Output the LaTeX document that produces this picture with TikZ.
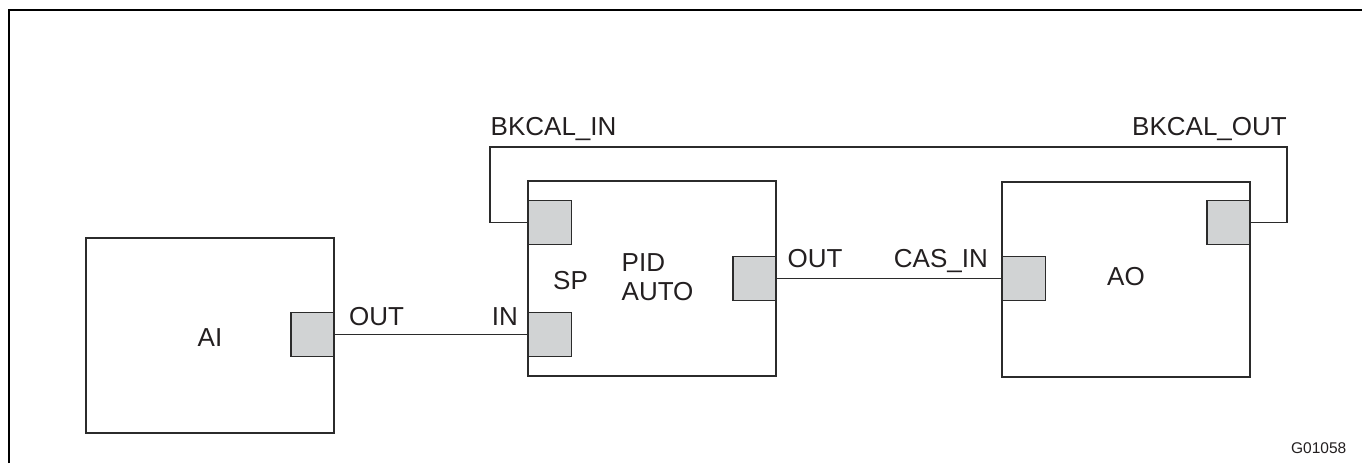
\documentclass[tikz,border=0pt]{standalone}
\usepackage{fontspec}
\setmainfont{Liberation Sans}
\begin{document}
\begin{tikzpicture}[x=1pt,y=-1pt,
  blk/.style={draw=boxc, line width=1.6pt, minimum width=248pt, minimum height=195pt, inner sep=0pt},
  port/.style={draw=boxc, fill=portc, line width=1.6pt, minimum width=43pt, minimum height=44pt, inner sep=0pt},
  wire/.style={draw=boxc, line width=1.4pt},
  lbl/.style={inner sep=0pt, font=\fontsize{26}{29}\selectfont, text=txtc},
  small/.style={inner sep=0pt, font=\fontsize{15.5}{18}\selectfont, text=txtc}]
\definecolor{boxc}{HTML}{2B2B2B}
\definecolor{portc}{HTML}{D1D3D4}
\definecolor{txtc}{HTML}{231F20}
\useasboundingbox (0,0) rectangle (1362,463);
\draw[line width=2.2pt] (9,463) -- (9,10) -- (1362,10);
% blocks
\node[blk] (ai) at (210,335.5) {};
\node[blk] (pid) at (652,278.5) {};
\node[blk] (ao) at (1126,279.5) {};
% ports
\node[port] (aiout) at (312.5,334.5) {};
\node[port] (pidsp) at (550,222.5) {};
\node[port] (pidin) at (550,334.5) {};
\node[port] (pidout) at (754.5,278.5) {};
\node[port] (aocas) at (1024,278.5) {};
\node[port] (aobk) at (1228.5,222.5) {};
% connectors
\coordinate (fbR) at (1287,147);
\coordinate (fbL) at (490,147);
\draw[wire] (aiout.east) -- (pidin.west);
\draw[wire] (pidout.east) -- (aocas.west);
\draw[wire] (aobk.east) -| (fbR) -- (fbL) |- (pidsp.west);
% labels
\node[lbl, anchor=base] (tai) at (210,346) {AI};
\node[lbl, anchor=base] (tao) at (1126,285) {AO};
\node[lbl, anchor=base west] (tsp) at (553,289) {SP};
\node[lbl, anchor=base west, align=left] (tpid) at (621.5,300) {PID\\AUTO};
\node[lbl, anchor=base west] (tout1) at (349,325) {OUT};
\node[lbl, anchor=base east] (tin) at (518,325) {IN};
\node[lbl, anchor=base west] (tout2) at (787.5,267) {OUT};
\node[lbl, anchor=base east] (tcas) at (988,267) {CAS\_IN};
\node[lbl, anchor=base west] (tbki) at (490.5,135) {BKCAL\_IN};
\node[lbl, anchor=base east] (tbko) at (1287,135) {BKCAL\_OUT};
\node[small, anchor=base east] (tg) at (1346.5,453) {G01058};
\end{tikzpicture}
\end{document}
